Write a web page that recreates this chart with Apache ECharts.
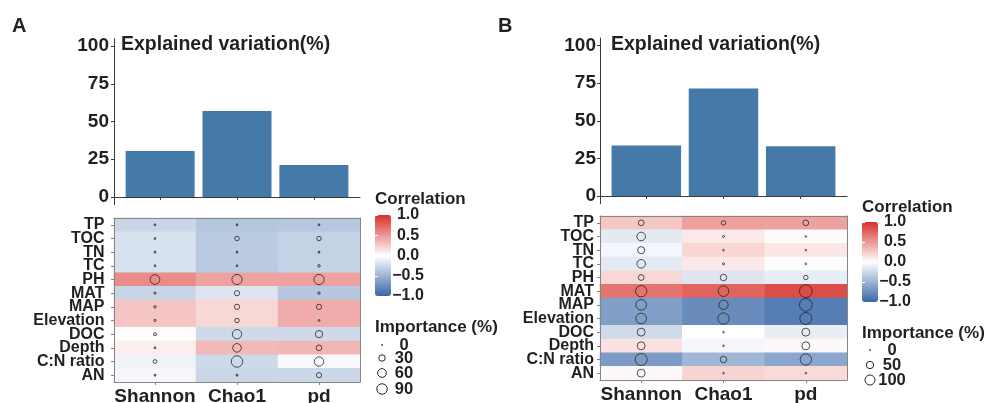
<!DOCTYPE html>
<html><head><meta charset="utf-8">
<script src="https://cdn.jsdelivr.net/npm/echarts@6/dist/echarts.min.js"></script>
<style>html,body{margin:0;padding:0;background:#fff}#chart{width:985px;height:403px}</style>
</head><body><div id="chart"></div>
<script>
// Diversity metrics (columns) and environmental factors (rows, top to bottom)
const metrics = ['Shannon', 'Chao1', 'pd'];
const factors = ['TP', 'TOC', 'TN', 'TC', 'PH', 'MAT', 'MAP', 'Elevation', 'DOC', 'Depth', 'C:N ratio', 'AN'];
const variationTicks = [0, 25, 50, 75, 100];

// Explained variation (%) per metric
const explainedA = [30.5, 57, 21.2];
const explainedB = [33.5, 71.5, 33];

// Correlation per factor: [Shannon, Chao1, pd]
const corrA = [
  [-0.27, -0.38, -0.37],
  [-0.20, -0.35, -0.30],
  [-0.20, -0.35, -0.30],
  [-0.20, -0.35, -0.29],
  [0.56, 0.44, 0.45],
  [-0.28, -0.17, -0.37],
  [0.28, 0.19, 0.40],
  [0.28, 0.19, 0.40],
  [-0.01, -0.25, -0.25],
  [0.08, 0.34, 0.35],
  [-0.08, -0.25, -0.04],
  [-0.05, -0.27, -0.26]
];
const corrB = [
  [0.27, 0.46, 0.45],
  [-0.14, 0.11, 0.02],
  [-0.06, 0.20, 0.12],
  [-0.14, 0.11, 0.02],
  [0.19, -0.17, -0.12],
  [0.67, 0.75, 0.86],
  [-0.64, -0.76, -0.86],
  [-0.64, -0.76, -0.86],
  [-0.24, 0.00, -0.11],
  [0.14, -0.05, 0.03],
  [-0.66, -0.48, -0.59],
  [0.03, 0.21, 0.18]
];

// Importance (%) per factor: [Shannon, Chao1, pd]
const impA = [
  [0.5, 0.5, 0.5],
  [0.5, 12, 12],
  [0.5, 0.5, 0.5],
  [0.5, 0.5, 2.5],
  [75, 85, 85],
  [0.5, 18, 2],
  [2, 18, 18],
  [1.5, 12, 0.8],
  [3, 70, 40],
  [0.5, 58, 22],
  [8, 110, 70],
  [0.5, 0.5, 18]
];
const impB = [
  [28, 15, 28],
  [71, 1.5, 0.5],
  [47, 0.5, 0.5],
  [71, 1.5, 0.5],
  [28, 37, 15],
  [131, 114, 169],
  [114, 85, 169],
  [114, 131, 149],
  [59, 0.5, 59],
  [59, 0.5, 59],
  [149, 37, 131],
  [59, 0.5, 0.5]
];

// Legend breaks
const corrTicks = [-1, -0.5, 0, 0.5, 1];
const impLegendA = [0, 30, 60, 90];
const impLegendB = [0, 50, 100];

const FONT = '"Liberation Sans", Arial, Helvetica, sans-serif';
const INK = '#231f20';
const BAR = '#4579a8';
const RING = '#262626';
const LOW = '#3a68a8', MID = '#ffffff', HIGH = '#d7302a';

// circle diameter from importance (area scaled)
const sizeA = v => 1 + 1.0 * Math.sqrt(v);
const sizeB = v => 1 + 0.9 * Math.sqrt(v);

const fmtCorr = v => (v < 0 ? '\u2212' : '') + Math.abs(v).toFixed(1);

const tileData = m => { const out = []; m.forEach((row, r) => row.forEach((v, c) => out.push([c, r, v]))); return out; };

const txt = (text, x, y, size, align) => ({
  type: 'text', x, y, z: 50,
  style: { text, fontSize: size, fontWeight: 'bold', fontFamily: FONT, fill: INK, align: align || 'left', verticalAlign: 'middle' }
});

function sizeLegend(values, sizeFn, cx, labelX, ys) {
  const els = [];
  values.forEach((v, i) => {
    els.push({ type: 'circle', z: 50, shape: { cx, cy: ys[i], r: sizeFn(v) / 2 },
      style: { fill: 'none', stroke: RING, lineWidth: 1 } });
    els.push(txt(String(v), labelX, ys[i], 16.5, 'center'));
  });
  return els;
}

const lab = { fontFamily: FONT, fontWeight: 'bold', color: INK };

function barAxes(gi) {
  return {
    x: { type: 'value', gridIndex: gi, min: 0.4, max: 3.6,
      axisLine: { show: true, lineStyle: { color: '#3a3a3a', width: 1 } },
      axisTick: { show: true, customValues: [1, 2, 3], length: 3, lineStyle: { color: '#3a3a3a' } },
      axisLabel: { show: false }, splitLine: { show: false } },
    y: { type: 'value', gridIndex: gi, min: -5, max: 105,
      axisLine: { show: true, lineStyle: { color: '#3a3a3a', width: 1 } },
      axisTick: { show: true, customValues: variationTicks, length: 3, lineStyle: { color: '#3a3a3a' } },
      axisLabel: Object.assign({ customValues: variationTicks, fontSize: 19, margin: gi === 0 ? 5 : 4 }, lab),
      splitLine: { show: false } }
  };
}

function heatAxes(gi, yMargin) {
  const line = { show: true, lineStyle: { color: '#858585', width: 1 } };
  return {
    xb: { type: 'category', gridIndex: gi, data: metrics, position: 'bottom', z: 5,
      axisLine: line, axisTick: { show: true, alignWithLabel: true, length: 3, lineStyle: { color: '#858585' } },
      axisLabel: Object.assign({ fontSize: 19, margin: 5, interval: 0 }, lab) },
    xt: { type: 'category', gridIndex: gi, data: metrics, position: 'top', z: 5,
      axisLine: line, axisTick: { show: false }, axisLabel: { show: false } },
    yl: { type: 'category', gridIndex: gi, data: factors, inverse: true, position: 'left', z: 5,
      axisLine: line, axisTick: { show: true, alignWithLabel: true, length: 3, lineStyle: { color: '#858585' } },
      axisLabel: Object.assign({ fontSize: 16, margin: yMargin, interval: 0, lineHeight: 14 }, lab) },
    yr: { type: 'category', gridIndex: gi, data: factors, inverse: true, position: 'right', z: 5,
      axisLine: line, axisTick: { show: false }, axisLabel: { show: false } }
  };
}

function cbarAxes(gi) {
  return {
    x: { type: 'value', gridIndex: gi, show: false },
    yr: { type: 'value', gridIndex: gi, min: -1, max: 1, interval: 0.5, position: 'right', z: 10,
      axisLine: { show: false },
      axisTick: { show: true, inside: true, length: 3, lineStyle: { color: '#ffffff', width: 1 } },
      axisLabel: Object.assign({ fontSize: 16, margin: 17, align: 'center', formatter: fmtCorr }, lab),
      splitLine: { show: false } },
    yl: { type: 'value', gridIndex: gi, min: -1, max: 1, interval: 0.5, position: 'left', z: 10,
      axisLine: { show: false },
      axisTick: { show: true, inside: true, length: 3, lineStyle: { color: '#ffffff', width: 1 } },
      axisLabel: { show: false }, splitLine: { show: false } }
  };
}

const bA = barAxes(0), bB = barAxes(1);
const hA = heatAxes(2, 9.5), hB = heatAxes(3, 6);
const cA = cbarAxes(4), cB = cbarAxes(5);

const option = {
  backgroundColor: '#ffffff',
  animation: false,
  grid: [
    { left: 114, top: 38.5, width: 246, height: 166, outerBoundsMode: 'none' },
    { left: 600, top: 38, width: 247, height: 165.5, outerBoundsMode: 'none' },
    { left: 114, top: 218, width: 246, height: 164, outerBoundsMode: 'none' },
    { left: 600, top: 216, width: 247, height: 164, outerBoundsMode: 'none' },
    { left: 375, top: 215, width: 16, height: 81, outerBoundsMode: 'none' },
    { left: 862, top: 222, width: 16, height: 80, outerBoundsMode: 'none' }
  ],
  xAxis: [bA.x, bB.x, hA.xb, hB.xb, hA.xt, hB.xt, cA.x, cB.x],
  yAxis: [bA.y, bB.y, hA.yl, hB.yl, hA.yr, hB.yr, cA.yr, cB.yr, cA.yl, cB.yl],
  visualMap: [
    { type: 'continuous', min: -1, max: 1, seriesIndex: 2, dimension: 2, calculable: false,
      inRange: { color: [LOW, MID, HIGH] }, left: 375, top: 215, itemWidth: 16, itemHeight: 81, padding: 0, text: null },
    { type: 'continuous', min: -1, max: 1, seriesIndex: 3, dimension: 2, calculable: false,
      inRange: { color: [LOW, MID, HIGH] }, left: 862, top: 222, itemWidth: 16, itemHeight: 80, padding: 0, text: null }
  ],
  series: [
    { type: 'bar', xAxisIndex: 0, yAxisIndex: 0, barWidth: 69, itemStyle: { color: BAR },
      data: explainedA.map((v, i) => [i + 1, v]) },
    { type: 'bar', xAxisIndex: 1, yAxisIndex: 1, barWidth: 69.5, itemStyle: { color: BAR },
      data: explainedB.map((v, i) => [i + 1, v]) },
    { type: 'heatmap', xAxisIndex: 2, yAxisIndex: 2, data: tileData(corrA), progressive: 0 },
    { type: 'heatmap', xAxisIndex: 3, yAxisIndex: 3, data: tileData(corrB), progressive: 0 },
    { type: 'scatter', xAxisIndex: 2, yAxisIndex: 2, z: 4, data: tileData(impA),
      symbolSize: d => sizeA(d[2]),
      itemStyle: { color: 'rgba(0,0,0,0)', borderColor: RING, borderWidth: 1 } },
    { type: 'scatter', xAxisIndex: 3, yAxisIndex: 3, z: 4, data: tileData(impB),
      symbolSize: d => sizeB(d[2]),
      itemStyle: { color: 'rgba(0,0,0,0)', borderColor: RING, borderWidth: 1 } }
  ],
  graphic: [
    txt('A', 12, 26, 20),
    txt('B', 498, 26, 20),
    txt('Explained variation(%)', 121, 45, 19.5),
    txt('Explained variation(%)', 611, 45, 19.5),
    txt('Correlation', 375, 199, 17),
    txt('Correlation', 862, 207, 17),
    txt('Importance (%)', 375, 327, 17),
    txt('Importance (%)', 862, 333, 17)
  ].concat(
    sizeLegend(impLegendA, sizeA, 382, 404, [345, 358, 373, 389]),
    sizeLegend(impLegendB, sizeB, 870, 892, [350, 365, 380])
  )
};

const chart = echarts.init(document.getElementById('chart'), null, { renderer: 'canvas' });
chart.setOption(option);
</script>
</body></html>
